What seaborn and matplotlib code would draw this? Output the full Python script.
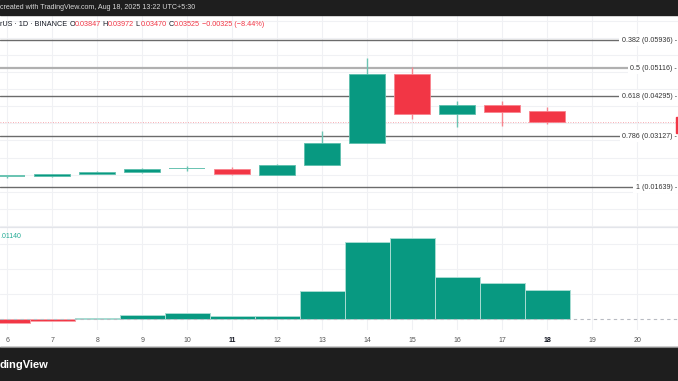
import numpy as np
import pandas as pd
import matplotlib
matplotlib.use("Agg")
import matplotlib.pyplot as plt
from matplotlib.patches import Rectangle
from matplotlib.lines import Line2D
from matplotlib.transforms import blended_transform_factory
import seaborn as sns

# ---------------- data ----------------
days = [6, 7, 8, 9, 10, 11, 12, 13, 14, 15, 16, 17, 18]
opens = [0.01960, 0.01950, 0.02020, 0.02070, 0.02182, 0.02166, 0.01998, 0.02280, 0.02925, 0.04951, 0.03773, 0.04027, 0.03847]
highs = [0.02000, 0.02030, 0.02107, 0.02194, 0.02253, 0.02232, 0.02311, 0.03276, 0.05401, 0.05138, 0.04162, 0.04144, 0.03972]
lows = [0.01902, 0.01945, 0.02010, 0.02060, 0.02116, 0.02000, 0.01990, 0.02270, 0.02915, 0.03636, 0.03402, 0.03431, 0.03470]
closes = [0.01962, 0.02026, 0.02077, 0.02156, 0.02185, 0.02010, 0.02272, 0.02925, 0.04951, 0.03773, 0.04027, 0.03840, 0.03525]

hist_vals = [-0.00064, -0.00037, 0.00010, 0.00055, 0.00073, 0.00037, 0.00035, 0.00377, 0.01064, 0.01110, 0.00571, 0.00492, 0.00391]

fib_levels = ["0.382", "0.5", "0.618", "0.786", "1"]
fib_prices = [0.05936, 0.05116, 0.04295, 0.03127, 0.01639]

tick_days = [6, 7, 8, 9, 10, 11, 12, 13, 14, 15, 16, 17, 18, 19, 20]
bold_days = [11, 18]

last_close = 0.03525
hist_label = ".01140"

header_parts = [("rUS · 1D · BINANCE ", "#131722"), ("O", "#131722"), ("0.03847", "#f23645"),
                (" H", "#131722"), ("0.03972", "#f23645"), (" L", "#131722"), ("0.03470", "#f23645"),
                (" C", "#131722"), ("0.03525", "#f23645"), (" −0.00325 (−8.44%)", "#f23645")]
top_text = "created with TradingView.com, Aug 18, 2025 13:22 UTC+5:30"
bottom_text = "dingView"

# ---------------- style ----------------
sns.set_theme(style="white")
plt.rcParams['font.family'] = ['Liberation Sans', 'DejaVu Sans']

GREEN = "#089981"
RED = "#f23645"
GRID = "#f0f1f4"

W, H = 678, 381
fig = plt.figure(figsize=(W / 100, H / 100), dpi=100)
fig.patch.set_facecolor("white")

def fx(px):
    return px / W

def fy(py):
    return 1 - py / H

XL = (5.838, 20.904)

# price pane (pixels 15..227)
ax_p = fig.add_axes([0, fy(227), 1, (227 - 15) / H])
# indicator pane (pixels 227..330)
ax_v = fig.add_axes([0, fy(330), 1, (330 - 227) / H])

for ax in (ax_p, ax_v):
    ax.set_facecolor("white")
    for s in ax.spines.values():
        s.set_visible(False)

# ---- price pane ----
for lvl, pr in zip(fib_levels, fib_prices):
    if lvl == "0.5":
        ax_p.axhline(pr, color="#b0b0b0", lw=1.6, zorder=1)
    else:
        ax_p.axhline(pr, color="#6b6b6b", lw=1.0, zorder=1)
    ax_p.text(fx(677), pr, f"{lvl} ({pr:.5f}) -", transform=ax_p.get_yaxis_transform(),
              ha="right", va="center", fontsize=5.1, color="#333333", zorder=5,
              bbox=dict(boxstyle="square,pad=0.35", fc="white", ec="none"))

ax_p.axhline(last_close, color=RED, lw=0.6, ls=(0, (1, 2)), alpha=0.55, zorder=1)

for d, o, h, l, c in zip(days, opens, highs, lows, closes):
    up = c >= o
    col = GREEN if up else RED
    wick = "#6cc4b3" if up else "#f7868f"
    edge = "#5cbfad" if up else "#f8838d"
    ax_p.vlines(d, l, h, color=wick, lw=1.0, zorder=2)
    bot = min(o, c)
    if abs(c - o) < 0.00006:
        ax_p.bar(d, 0.00035, bottom=(o + c) / 2 - 0.000175, width=0.8, color="#6cc4b3",
                 edgecolor="none", zorder=3)
    else:
        ax_p.bar(d, abs(c - o), bottom=bot, width=0.8, color=col, edgecolor=edge, linewidth=0.6, zorder=3)

ax_p.set_xticks(tick_days)
ax_p.set_yticks(np.arange(0.005, 0.0651, 0.005))
ax_p.set_xlim(*XL)
ax_p.set_ylim(0.004698, 0.066668)
ax_p.grid(True, color=GRID, linewidth=0.8)
ax_p.set_axisbelow(True)
ax_p.tick_params(left=False, bottom=False, labelleft=False, labelbottom=False, length=0)

# ---- indicator pane ----
vs = 0.01140 / 82.5
df = pd.DataFrame({"day": days, "val": hist_vals,
                   "dir": ["up" if v >= 0 else "down" for v in hist_vals]})
sns.barplot(data=df, x="day", y="val", hue="dir", palette={"up": GREEN, "down": RED},
            native_scale=True, width=1, dodge=False, legend=False, errorbar=None,
            saturation=1, ax=ax_v, linewidth=0.7, edgecolor="white", zorder=2)
for p in ax_v.patches:
    fc = p.get_facecolor()
    if fc[0] > 0.5:
        p.set_edgecolor("#f8a0a7")
    else:
        p.set_edgecolor("#a8dcd2")

ax_v.set_xticks(tick_days)
ax_v.set_yticks([25 * vs, 50 * vs, 75 * vs])
ax_v.set_xlim(*XL)
ax_v.set_ylim(-(330 - 318.5) * vs, (318.5 - 227) * vs)
ax_v.grid(True, color=GRID, linewidth=0.8)
ax_v.set_axisbelow(True)
ax_v.tick_params(left=False, bottom=False, labelleft=False, labelbottom=False, length=0)
ax_v.set_xlabel("")
ax_v.set_ylabel("")
ax_v.axhline(0, color="#b8bbc2", lw=0.8, ls=(0, (3, 3)), zorder=4)
fig.text(fx(0), fy(236), hist_label, ha="left", va="center", fontsize=5, color="#22ab94")

# x-axis day labels
tr = blended_transform_factory(ax_v.transData, fig.transFigure)
for d in tick_days:
    bold = d in bold_days
    ax_v.text(d, fy(340.5), str(d), transform=tr, ha="center", va="center", fontsize=5,
              color="#131722" if bold else "#555555", fontweight="bold" if bold else "normal",
              clip_on=False)

# pane separator
fig.add_artist(Line2D([0, 1], [fy(227.3)] * 2, color="#e3e5ea", lw=0.9, transform=fig.transFigure))

# right price tag (cut off)
fig.add_artist(Rectangle((fx(675.5), fy(133)), fx(3), (133 - 117) / H, transform=fig.transFigure,
                         color=RED, zorder=10))

# top bar
fig.add_artist(Rectangle((0, fy(15)), 1, 15 / H, transform=fig.transFigure, color="#1e1e1e", zorder=10))
fig.text(fx(0), fy(7.8), top_text, ha="left", va="center", fontsize=5.1, color="#d8d8d8", zorder=11)

# bottom bar
fig.add_artist(Rectangle((0, 0), 1, (H - 346.5) / H, transform=fig.transFigure, color="#1e1e1e", zorder=10))
fig.add_artist(Line2D([0, 1], [fy(346.5)] * 2, color="#8a8a8a", lw=0.8, transform=fig.transFigure, zorder=11))
fig.text(fx(0), fy(364.5), bottom_text, ha="left", va="center", fontsize=8, color="white",
         fontweight="bold", zorder=11)

# header line with coloured parts
fig.canvas.draw()
renderer = fig.canvas.get_renderer()
xpos = fx(0)
for txt, col in header_parts:
    t = fig.text(xpos, fy(24), txt, ha="left", va="center", fontsize=5.2, color=col, zorder=11)
    bb = t.get_window_extent(renderer=renderer)
    xpos += bb.width / fig.bbox.width

fig.savefig("out.png", dpi=100, facecolor="white")
